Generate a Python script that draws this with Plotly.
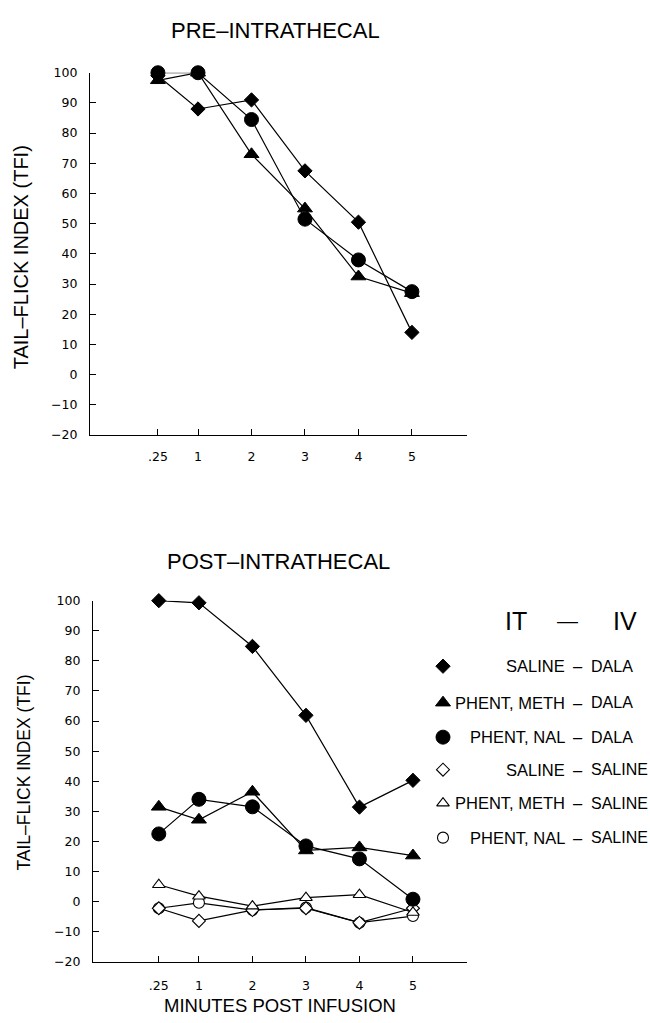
import plotly.graph_objects as go

# ---------------- data ----------------
x_minutes = [0.25, 1, 2, 3, 4, 5]
x_ticktext = [".25", "1", "2", "3", "4", "5"]
y_ticks = [-20, -10, 0, 10, 20, 30, 40, 50, 60, 70, 80, 90, 100]

# PRE-INTRATHECAL
pre_saline_dala = [99, 88, 91, 67.5, 50.5, 14]
pre_phent_meth_dala = [97.5, 100, 73, 55, 32.5, 27]
pre_phent_nal_dala = [100, 100, 84.5, 51.5, 38, 27.5]

# POST-INTRATHECAL
post_saline_dala = [100, 99.3, 84.8, 61.9, 31.4, 40.3]
post_phent_meth_dala = [31.5, 27.2, 36.5, 17, 18, 15.3]
post_phent_nal_dala = [22.5, 34, 31.5, 18.5, 14.2, 0.8]
post_saline_saline = [-2.2, -6.4, -2.8, -2.2, -7.0, -2.2]
post_phent_meth_saline = [5.6, 1.8, -1.5, 1.3, 2.3, -3.6]
post_phent_nal_saline = [-2.2, -0.4, -2.8, -2.0, -7.0, -4.8]

legend_left = ["SALINE", "PHENT, METH", "PHENT, NAL", "SALINE", "PHENT, METH", "PHENT, NAL"]
legend_right = ["DALA", "DALA", "DALA", "SALINE", "SALINE", "SALINE"]

W, H = 650, 1023
FONT = "Liberation Sans, Arial, sans-serif"
TICKFONT = "DejaVu Sans, sans-serif"
CLEAR = "rgba(0,0,0,0)"

styles = {
    "saline_dala": dict(symbol="diamond", size=11, color="black", line=dict(width=1, color="black")),
    "pm_dala": dict(symbol="triangle-up", size=13, color="black", line=dict(width=1, color="black")),
    "pn_dala": dict(symbol="circle", size=14, color="black", line=dict(width=1, color="black")),
    "saline_saline": dict(symbol="diamond", size=10, color="white", line=dict(width=1.1, color="black")),
    "pm_saline": dict(symbol="triangle-up", size=11, color="white", line=dict(width=1.1, color="black")),
    "pn_saline": dict(symbol="circle", size=11, color="white", line=dict(width=1.1, color="black")),
}

fig = go.Figure()

def add_series(y, style, xa, ya):
    fig.add_trace(go.Scatter(
        x=x_minutes, y=y, mode="lines+markers",
        line=dict(color="black", width=1.2),
        marker=style, cliponaxis=False, showlegend=False,
        xaxis=xa, yaxis=ya, hoverinfo="skip"))

# top panel
add_series(pre_saline_dala, styles["saline_dala"], "x", "y")
add_series(pre_phent_meth_dala, styles["pm_dala"], "x", "y")
add_series(pre_phent_nal_dala, styles["pn_dala"], "x", "y")

# bottom panel
add_series(post_phent_nal_saline, styles["pn_saline"], "x2", "y2")
add_series(post_saline_saline, styles["saline_saline"], "x2", "y2")
add_series(post_phent_meth_saline, styles["pm_saline"], "x2", "y2")
add_series(post_saline_dala, styles["saline_dala"], "x2", "y2")
add_series(post_phent_meth_dala, styles["pm_dala"], "x2", "y2")
add_series(post_phent_nal_dala, styles["pn_dala"], "x2", "y2")

# legend markers on a pixel-space helper axis
legend_rows_y = [668, 705, 740, 773, 807, 842]
legend_marker_styles = [styles["saline_dala"], styles["pm_dala"], styles["pn_dala"],
                        styles["saline_saline"], styles["pm_saline"], styles["pn_saline"]]
for yy, st in zip(legend_rows_y, legend_marker_styles):
    fig.add_trace(go.Scatter(x=[443], y=[yy], mode="markers", marker=st,
                             xaxis="x3", yaxis="y3", showlegend=False,
                             cliponaxis=False, hoverinfo="skip"))

def px_x(v):
    return v / W

def px_y(v):
    return 1 - v / H

axis_common = dict(showline=True, linecolor="black", linewidth=1.2, ticks="inside",
                   ticklen=6, tickwidth=1.2, tickcolor="black", showgrid=False,
                   zeroline=False, tickfont=dict(family=TICKFONT, size=12.5, color="black"))

fig.update_layout(
    width=W, height=H, margin=dict(l=0, r=0, t=0, b=0),
    paper_bgcolor="white", plot_bgcolor=CLEAR,
    font=dict(family=FONT, color="black"),
    xaxis=dict(axis_common, domain=[px_x(90), px_x(467)], range=[-1.02, 6.03],
               tickvals=x_minutes, ticktext=x_ticktext, anchor="y", ticklabelstandoff=10),
    yaxis=dict(axis_common, domain=[px_y(433.4), px_y(65.7)], range=[-20, 100],
               tickvals=y_ticks, anchor="x", ticklabelstandoff=9),
    xaxis2=dict(axis_common, domain=[px_x(93), px_x(467)], range=[-0.98, 6.01],
                tickvals=x_minutes, ticktext=x_ticktext, anchor="y2", ticklabelstandoff=12),
    yaxis2=dict(axis_common, domain=[px_y(968), px_y(601.5)], range=[-20, 100],
                tickvals=y_ticks, anchor="x2", ticklabelstandoff=9),
    xaxis3=dict(domain=[0, 1], range=[0, W], visible=False, anchor="y3", fixedrange=True),
    yaxis3=dict(domain=[0, 1], range=[H, 0], visible=False, anchor="x3", fixedrange=True),
)

ann = []
def text(x, y, s, size, xanchor="center", textangle=0):
    ann.append(dict(x=px_x(x), y=px_y(y), xref="paper", yref="paper", text=s,
                    showarrow=False, xanchor=xanchor, yanchor="middle",
                    textangle=textangle, font=dict(family=FONT, size=size, color="black")))

text(275, 23, "PRE–INTRATHECAL", 22)
text(278, 562, "POST–INTRATHECAL", 22)
text(280, 1012, "MINUTES POST INFUSION", 18.5)
text(21, 253, "TAIL–FLICK INDEX (TFI)", 20, textangle=-90)
text(24, 776, "TAIL–FLICK INDEX (TFI)", 17.5, textangle=-90)

# legend header
text(516, 622, "IT", 25)
text(567, 622, "—", 21)
text(625, 622, "IV", 25)
for yy, l, r in zip(legend_rows_y, legend_left, legend_right):
    text(567, yy, l, 16.5, xanchor="right")
    text(578, yy, "–", 16.5)
    text(589, yy, r, 16, xanchor="left")

fig.update_layout(annotations=ann)
fig.write_html("out.html", config={"displayModeBar": False},
               post_script="document.body.style.margin='0px';")
